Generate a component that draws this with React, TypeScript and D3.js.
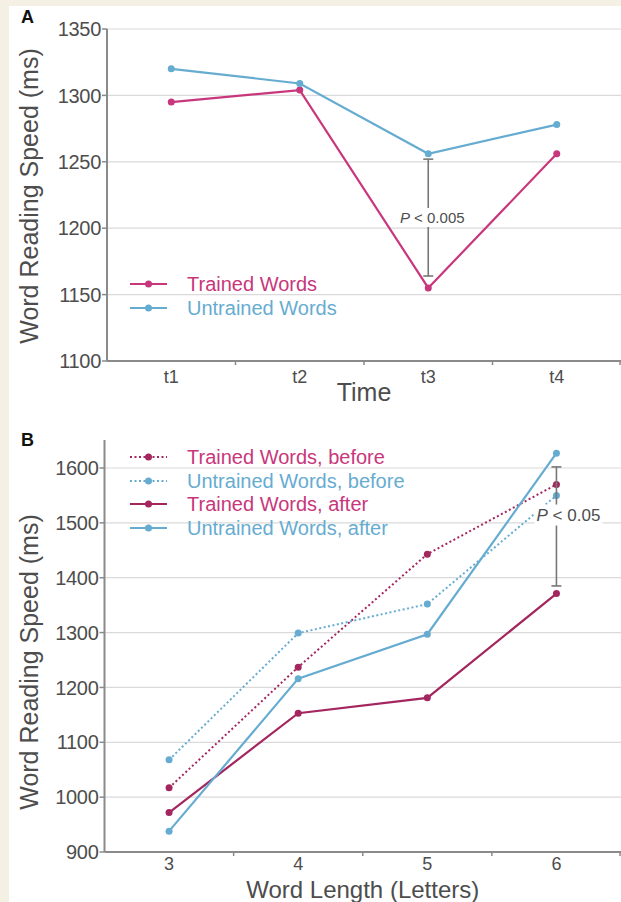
import * as d3 from "d3";
import { useEffect, useRef } from "react";

// panel A: reading speed over time
const timeLabels = ["t1", "t2", "t3", "t4"];
const trainedA = [1295, 1304, 1155, 1256];
const untrainedA = [1320, 1309, 1256, 1278];
const ticksA = [1100, 1150, 1200, 1250, 1300, 1350];
const errA = [1164, 1252];

// panel B: reading speed by word length
const lengthLabels = ["3", "4", "5", "6"];
const trainedBefore = [1017, 1237, 1443, 1570];
const untrainedBefore = [1068, 1299, 1352, 1550];
const trainedAfter = [972, 1153, 1181, 1371];
const untrainedAfter = [938, 1216, 1297, 1627];
const ticksB = [900, 1000, 1100, 1200, 1300, 1400, 1500, 1600];
const errB = [1385, 1602];

const FONT = "'Liberation Sans', Arial, Helvetica, sans-serif";
const GREY = "#4d4d4d";
const PINK = "#c8377c";
const PINK_DARK = "#a3265e";
const BLUE = "#66acd1";

const W = 621;
const H = 902;

const App = () => {
  const svgRef = useRef<SVGSVGElement>(null);

  useEffect(() => {
    const svg = d3.select(svgRef.current);
    svg.selectAll("*").remove();

    //фон
    svg.append("rect").attr("width", W).attr("height", H).attr("fill", "#f4f0e3");
    svg.append("rect").attr("x", 9).attr("y", 6).attr("width", W - 9).attr("height", H - 6).attr("fill", "#fff");

    //общая функция для одной панели
    const drawPanel = (opts: any) => {
      const { cats, ticks, yDomain, yRange, xRange, axisTop, series, err, errLabel, errDx, yTitleY, xTitle, xTitleY, xTitleSize, xLabDy, letter, letterY } = opts;
      const x = d3.scaleBand().domain(cats).range(xRange);
      const y = d3.scaleLinear().domain(yDomain).range(yRange);
      const cx = (c: string) => (x(c) as number) + x.bandwidth() / 2;
      const g = svg.append("g");

      //сетка
      g.selectAll(".grid")
        .data(ticks.slice(1))
        .enter()
        .append("line")
        .attr("x1", xRange[0])
        .attr("x2", xRange[1])
        .attr("y1", (d: number) => y(d))
        .attr("y2", (d: number) => y(d))
        .attr("stroke", "#dadada")
        .attr("stroke-width", 1.2);

      //ось y
      g.append("line")
        .attr("x1", xRange[0]).attr("x2", xRange[0])
        .attr("y1", axisTop).attr("y2", yRange[0])
        .attr("stroke", "#8a8a8a").attr("stroke-width", 2);
      g.selectAll(".ytick")
        .data(ticks)
        .enter()
        .append("line")
        .attr("x1", xRange[0] - 5).attr("x2", xRange[0])
        .attr("y1", (d: number) => y(d)).attr("y2", (d: number) => y(d))
        .attr("stroke", "#8a8a8a").attr("stroke-width", 1.5);
      g.selectAll(".ylab")
        .data(ticks)
        .enter()
        .append("text")
        .attr("x", xRange[0] - 6)
        .attr("y", (d: number) => y(d))
        .attr("dy", "0.36em")
        .attr("text-anchor", "end")
        .style("font-family", FONT)
        .style("font-size", "20px")
        .style("letter-spacing", "-0.3px")
        .style("fill", GREY)
        .text((d: number) => d);

      //ось x
      g.append("line")
        .attr("x1", xRange[0]).attr("x2", xRange[1])
        .attr("y1", yRange[0]).attr("y2", yRange[0])
        .attr("stroke", "#8a8a8a").attr("stroke-width", 2);
      g.selectAll(".xtick")
        .data(cats.slice(1).concat(["__end"]))
        .enter()
        .append("line")
        .attr("x1", (d: string) => (d === "__end" ? xRange[1] - 1 : (x(d) as number)))
        .attr("x2", (d: string) => (d === "__end" ? xRange[1] - 1 : (x(d) as number)))
        .attr("y1", yRange[0]).attr("y2", yRange[0] + 4)
        .attr("stroke", "#8a8a8a").attr("stroke-width", 1.5);
      g.selectAll(".xlab")
        .data(cats)
        .enter()
        .append("text")
        .attr("x", (d: string) => cx(d))
        .attr("y", yRange[0] + xLabDy)
        .attr("text-anchor", "middle")
        .style("font-family", FONT)
        .style("font-size", "18px")
        .style("fill", GREY)
        .text((d: string) => d);

      //подписи осей
      g.append("text")
        .attr("x", (xRange[0] + xRange[1]) / 2)
        .attr("y", xTitleY)
        .attr("text-anchor", "middle")
        .style("font-family", FONT)
        .style("font-size", xTitleSize)
        .style("fill", GREY)
        .text(xTitle);
      g.append("text")
        .attr("transform", `translate(38,${yTitleY}) rotate(-90)`)
        .attr("text-anchor", "middle")
        .style("font-family", FONT)
        .style("font-size", "25px")
        .style("fill", GREY)
        .text("Word Reading Speed (ms)");
      g.append("text")
        .attr("x", 21).attr("y", letterY)
        .style("font-family", FONT)
        .style("font-size", "18px")
        .style("font-weight", "bold")
        .style("fill", "#111")
        .text(letter);

      //линии и точки
      series.forEach((s: any) => {
        const line = d3.line<number>()
          .x((_, i) => cx(cats[i]))
          .y((d) => y(d));
        g.append("path")
          .attr("d", line(s.values))
          .attr("fill", "none")
          .attr("stroke", s.color)
          .attr("stroke-width", s.dotted ? 2 : 2.2)
          .attr("stroke-dasharray", s.dotted ? "2,2.5" : null);
        g.selectAll(null)
          .data(s.values)
          .enter()
          .append("circle")
          .attr("cx", (_: number, i: number) => cx(cats[i]))
          .attr("cy", (d: number) => y(d))
          .attr("r", 3.5)
          .attr("fill", s.color);
      });

      //планка значимости
      const ex = cx(cats[err.at]);
      g.append("line")
        .attr("x1", ex).attr("x2", ex)
        .attr("y1", y(err.lo)).attr("y2", y(err.hi))
        .attr("stroke", "#777").attr("stroke-width", 1.6);
      [err.lo, err.hi].forEach((v: number) => {
        g.append("line")
          .attr("x1", ex - 5).attr("x2", ex + 5)
          .attr("y1", y(v)).attr("y2", y(v))
          .attr("stroke", "#777").attr("stroke-width", 1.6);
      });
      const ly = y((err.lo + err.hi) / 2) + errLabel.dy;
      const lab = g.append("text")
        .attr("x", ex + errDx)
        .attr("y", ly)
        .attr("dy", "0.36em")
        .attr("text-anchor", "middle")
        .style("font-family", FONT)
        .style("font-size", errLabel.size)
        .style("fill", GREY);
      lab.append("tspan").style("font-style", "italic").text("P");
      lab.append("tspan").text(" < " + errLabel.text);
      const bb = (lab.node() as SVGTextElement).getBBox();
      g.insert("rect", () => lab.node())
        .attr("x", bb.x - 2).attr("y", bb.y - 1)
        .attr("width", bb.width + 4).attr("height", bb.height + 2)
        .attr("fill", "#fff");

      //легенда
      series.forEach((s: any) => {
        const lg = g.append("g").attr("transform", `translate(130,${s.legendY})`);
        lg.append("line")
          .attr("x1", 0).attr("x2", 37)
          .attr("stroke", s.color)
          .attr("stroke-width", s.dotted ? 2 : 2.2)
          .attr("stroke-dasharray", s.dotted ? "2,2.5" : null);
        lg.append("circle").attr("cx", 18.5).attr("r", 3.5).attr("fill", s.color);
        lg.append("text")
          .attr("x", 57)
          .attr("dy", "0.36em")
          .style("font-family", FONT)
          .style("font-size", "20px")
          .style("fill", s.textColor)
          .text(s.name);
      });
    };

    drawPanel({
      cats: timeLabels,
      ticks: ticksA,
      yDomain: [1100, 1350],
      yRange: [361, 29],
      xRange: [107, 621],
      axisTop: 29,
      series: [
        { name: "Trained Words", values: trainedA, color: PINK, textColor: PINK, legendY: 284 },
        { name: "Untrained Words", values: untrainedA, color: BLUE, textColor: BLUE, legendY: 308 },
      ],
      err: { at: 2, lo: errA[0], hi: errA[1] },
      errLabel: { text: "0.005", dy: 0, size: "15px" },
      errDx: 4,
      yTitleY: 196,
      xTitle: "Time",
      xTitleY: 401,
      xTitleSize: "25px",
      xLabDy: 22,
      letter: "A",
      letterY: 23,
    });

    drawPanel({
      cats: lengthLabels,
      ticks: ticksB,
      yDomain: [900, 1600],
      yRange: [852, 468],
      xRange: [104.5, 621],
      axisTop: 440,
      series: [
        { name: "Trained Words, before", values: trainedBefore, color: PINK_DARK, textColor: PINK, dotted: true, legendY: 457 },
        { name: "Untrained Words, before", values: untrainedBefore, color: BLUE, textColor: BLUE, dotted: true, legendY: 481 },
        { name: "Trained Words, after", values: trainedAfter, color: PINK_DARK, textColor: PINK, legendY: 504 },
        { name: "Untrained Words, after", values: untrainedAfter, color: BLUE, textColor: BLUE, legendY: 528 },
      ],
      err: { at: 3, lo: errB[0], hi: errB[1] },
      errLabel: { text: "0.05", dy: -12, size: "17px" },
      errDx: 12,
      yTitleY: 662,
      xTitle: "Word Length (Letters)",
      xTitleY: 898,
      xTitleSize: "24px",
      xLabDy: 18,
      letter: "B",
      letterY: 446,
    });
  }, []);

  return (
    <div style={{ position: "absolute", left: 0, top: 0 }}>
      <svg ref={svgRef} width={W} height={H} style={{ display: "block" }} />
    </div>
  );
};

export default App;
